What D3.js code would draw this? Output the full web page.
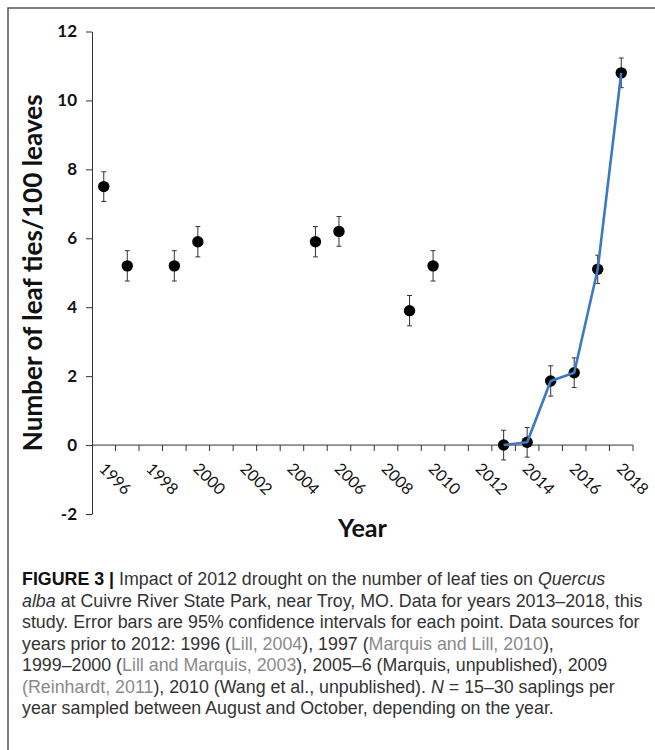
<!DOCTYPE html>
<html>
<head>
<meta charset="utf-8">
<script src="https://cdn.jsdelivr.net/npm/d3@7"></script>
<style>
  body { margin: 0; background: #fff; }
  svg { display: block; }
</style>
</head>
<body>
<svg id="chart" width="655" height="750"></svg>
<script>
// category axis, one slot per year (Excel style)
const categories = [1996, 1997, 1998, 1999, 2000, 2001, 2002, 2003, 2004, 2005, 2006, 2007,
                    2008, 2009, 2010, 2011, 2012, 2013, 2014, 2015, 2016, 2017, 2018];
const tickLabels = ['1996', '1998', '2000', '2002', '2004', '2006', '2008', '2010',
                    '2012', '2014', '2016', '2018'];
const yTicks = [-2, 0, 2, 4, 6, 8, 10, 12];

// leaf ties per 100 leaves, with 95% CI half widths
const years = [1996, 1997, 1999, 2000, 2005, 2006, 2009, 2010, 2013, 2014, 2015, 2016, 2017, 2018];
const ties  = [7.5, 5.2, 5.2, 5.9, 5.9, 6.2, 3.9, 5.2, 0.0, 0.08, 1.86, 2.1, 5.1, 10.8];
const ci95  = [0.43, 0.44, 0.44, 0.44, 0.44, 0.43, 0.44, 0.44, 0.43, 0.43, 0.44, 0.43, 0.41, 0.43];
// this study's years get joined by the blue line
const studyYears = [2013, 2014, 2015, 2016, 2017, 2018];

const captionLines = [
    [['FIGURE 3 | ', 'b'], ['Impact of 2012 drought on the number of leaf ties on ', ''], ['Quercus', 'i']],
    [['alba', 'i'], [' at Cuivre River State Park, near Troy, MO. Data for years 2013\u20132018, this', '']],
    [['study. Error bars are 95% confidence intervals for each point. Data sources for', '']],
    [['years prior to 2012: 1996 (', ''], ['Lill, 2004', 'g'], ['), 1997 (', ''], ['Marquis and Lill, 2010', 'g'], ['),', '']],
    [['1999\u20132000 (', ''], ['Lill and Marquis, 2003', 'g'], ['), 2005\u20136 (Marquis, unpublished), 2009', '']],
    [['(Reinhardt, 2011', 'g'], ['), 2010 (Wang et al., unpublished). ', ''], ['N', 'i'], [' = 15\u201330 saplings per', '']],
    [['year sampled between August and October, depending on the year.', '']]
];

const svg = d3.select('#chart');
const LEFT = 92, RIGHT = 633, TOP = 31.5, BOTTOM = 514;
const AXIS_FONT = 'Lato, "Open Sans", sans-serif';

const x = d3.scaleBand().domain(categories).range([LEFT, RIGHT]);
const y = d3.scaleLinear().domain([-2, 12]).range([BOTTOM, TOP]);
function cx(yr) { return x(yr) + x.bandwidth() / 2; }

// scale a text's font so it spans the wanted width
function fitWidth(sel, width) {
    const size = parseFloat(sel.style('font-size'));
    const w = sel.node().getComputedTextLength();
    sel.style('font-size', (size * width / w) + 'px');
}

// outer frame of the figure panel
svg.append('path')
    .attr('d', 'M8,750V8H655')
    .style('fill', 'none').style('stroke', '#555').style('stroke-width', 1.5);

// y axis
const yAxis = svg.append('g')
    .attr('transform', `translate(${LEFT},0)`)
    .call(d3.axisLeft(y).tickValues(yTicks).tickSize(6).tickSizeOuter(0).tickFormat(d => String(d)));
yAxis.select('.domain').style('stroke', '#333');
yAxis.selectAll('.tick line').style('stroke', '#333');
yAxis.selectAll('.tick text')
    .attr('x', -15)
    .style('font-family', AXIS_FONT).style('font-weight', 700).style('font-size', '17px')
    .style('fill', '#111');

// x axis at zero, ticks between the categories
const y0 = y(0);
svg.append('line')
    .attr('x1', LEFT).attr('x2', RIGHT).attr('y1', y0).attr('y2', y0)
    .style('stroke', '#333').style('stroke-width', 1);
svg.append('g').selectAll('line')
    .data(categories)
    .join('line')
    .attr('x1', d => x(d) + x.bandwidth()).attr('x2', d => x(d) + x.bandwidth())
    .attr('y1', y0).attr('y2', y0 + 6)
    .style('stroke', '#333').style('stroke-width', 1);
svg.append('g').selectAll('text')
    .data(tickLabels)
    .join('text')
    .attr('transform', d => `translate(${cx(+d) - 1},${y0 + 20}) rotate(45)`)
    .attr('dominant-baseline', 'central')
    .style('font-family', AXIS_FONT).style('font-size', '16px').style('fill', '#111')
    .text(d => d);

// axis titles
const yTitle = svg.append('text')
    .attr('transform', `translate(42,${(TOP + BOTTOM) / 2}) rotate(-90)`)
    .attr('text-anchor', 'middle')
    .style('font-family', AXIS_FONT).style('font-weight', 700).style('font-size', '26px')
    .style('fill', '#111')
    .text('Number of leaf ties/100 leaves');
fitWidth(yTitle, 357);

const xTitle = svg.append('text')
    .attr('x', (LEFT + RIGHT) / 2).attr('y', 537)
    .attr('text-anchor', 'middle')
    .style('font-family', AXIS_FONT).style('font-weight', 700).style('font-size', '23px')
    .style('fill', '#111')
    .text('Year');
fitWidth(xTitle, 49);

// error bars
const pts = years.map((yr, i) => ({ yr, v: ties[i], e: ci95[i] }));
const err = svg.append('g').style('stroke', '#333').style('stroke-width', 1);
pts.forEach(p => {
    const px = cx(p.yr);
    err.append('line').attr('x1', px).attr('x2', px).attr('y1', y(p.v + p.e)).attr('y2', y(p.v - p.e));
    err.append('line').attr('x1', px - 2.5).attr('x2', px + 2.5).attr('y1', y(p.v + p.e)).attr('y2', y(p.v + p.e));
    err.append('line').attr('x1', px - 2.5).attr('x2', px + 2.5).attr('y1', y(p.v - p.e)).attr('y2', y(p.v - p.e));
});

// markers
svg.append('g').selectAll('circle')
    .data(pts)
    .join('circle')
    .attr('cx', d => cx(d.yr)).attr('cy', d => y(d.v)).attr('r', 5.7)
    .style('fill', '#000');

// blue line for this study's years
const line = d3.line().x(d => cx(d.yr)).y(d => y(d.v));
svg.append('path')
    .datum(pts.filter(p => studyYears.includes(p.yr)))
    .attr('d', line)
    .style('fill', 'none').style('stroke', '#3b78c5').style('stroke-width', 2.6)
    .style('stroke-linejoin', 'round');

// caption
const CAP_FONT = '"Liberation Sans", Arial, sans-serif';
const cap = svg.append('g')
    .style('font-family', CAP_FONT).style('font-size', '15px').style('fill', '#333');
const capTexts = captionLines.map((segs, i) => {
    const t = cap.append('text').attr('x', 22).attr('y', 585 + i * 21.5);
    segs.forEach(([s, kind]) => {
        const sp = t.append('tspan').text(s);
        if (kind === 'b') sp.style('font-weight', 700).style('fill', '#111');
        if (kind === 'i') sp.style('font-style', 'italic');
        if (kind === 'g') sp.style('fill', '#8a8a8a');
    });
    return t;
});
// the second line runs nearly to the frame edge
const w2 = capTexts[1].node().getComputedTextLength();
cap.style('font-size', (15 * 621 / w2) + 'px');
</script>
</body>
</html>
